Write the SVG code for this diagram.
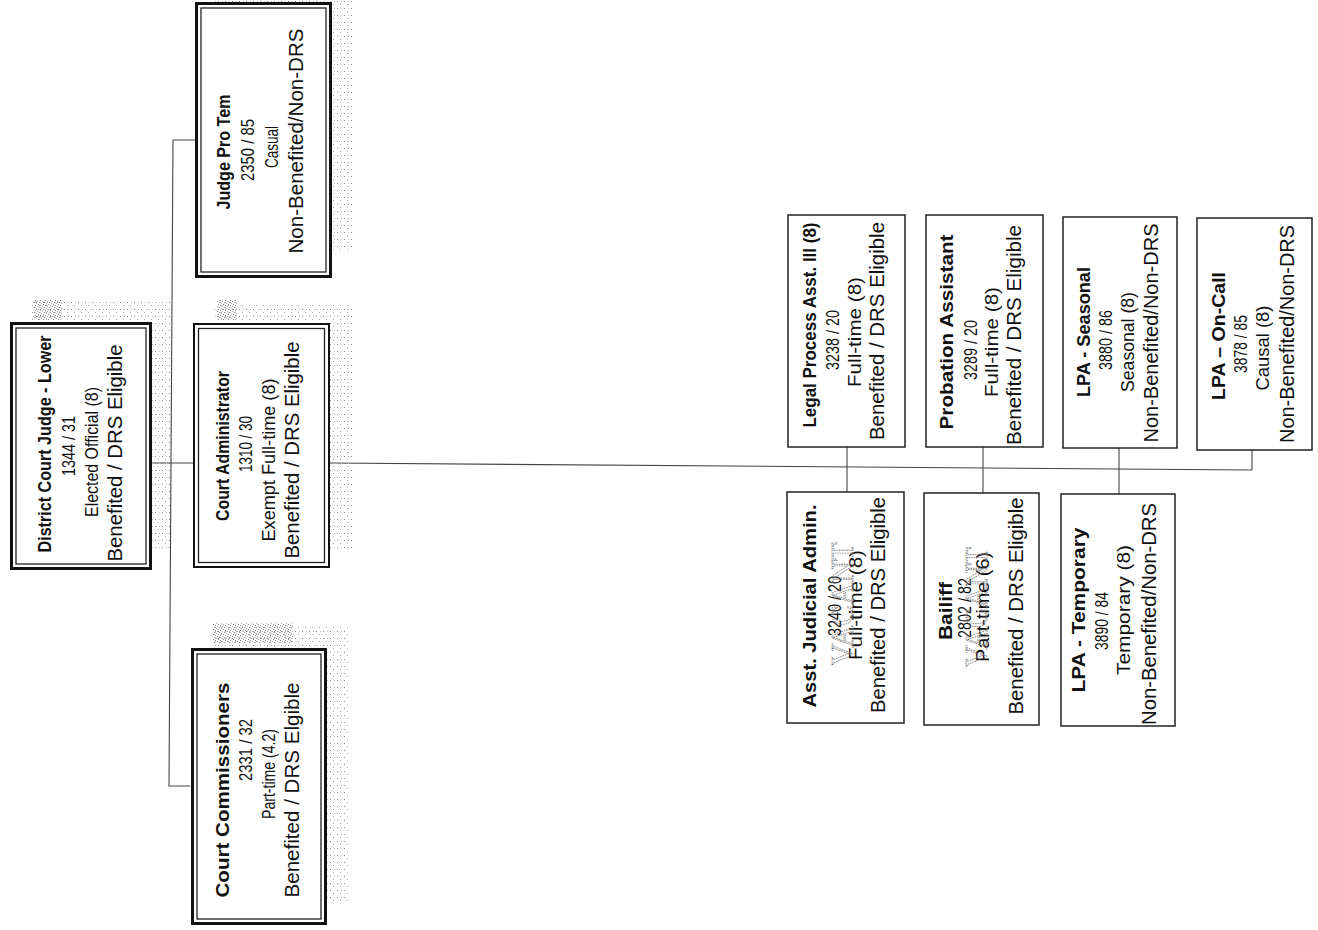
<svg xmlns="http://www.w3.org/2000/svg" width="1318" height="930" viewBox="0 0 1318 930">
<style>
text{font-family:"Liberation Sans",Arial,sans-serif;fill:#111;text-anchor:middle}
.t{font-weight:700;font-size:18px}
.r{font-size:19px}
.b{font-size:20px}
.v{font-family:"Liberation Serif","Times New Roman",serif;font-size:32px;fill:none;stroke:#777;stroke-width:0.9;stroke-dasharray:1.5 1}
.outer{fill:#fff;stroke:#111}
.inner{fill:none;stroke:#222;stroke-width:1.3}
.box{fill:#fff;stroke:#222;stroke-width:1.5}
.conn{fill:none;stroke:#444;stroke-width:1.1}
</style>
<defs>
<pattern id="stip" width="7" height="7" patternUnits="userSpaceOnUse">
<rect x="1" y="1" width="1" height="1" fill="#8a8a8a"/>
<rect x="4" y="4" width="1" height="1" fill="#a8a8a8"/>
<rect x="5" y="1" width="1" height="1" fill="#c4c4c4"/>
</pattern>
<pattern id="dense" width="5" height="5" patternUnits="userSpaceOnUse">
<rect x="0" y="0" width="1" height="1" fill="#888"/>
<rect x="2" y="1" width="1" height="1" fill="#aaa"/>
<rect x="4" y="2" width="1" height="1" fill="#999"/>
<rect x="1" y="3" width="1" height="1" fill="#bbb"/>
<rect x="3" y="4" width="1" height="1" fill="#888"/>
<rect x="0" y="2" width="1" height="1" fill="#ccc"/>
</pattern>
</defs>
<rect width="1318" height="930" fill="#fff"/>

<g id="connectors">
<path class="conn" d="M195 140 H173 L169 786 H190"/>
<path class="conn" d="M152 463 H193"/>
<path class="conn" d="M330 463 L1252 470"/>
<path class="conn" d="M847 447 V492"/>
<path class="conn" d="M983 447 V493"/>
<path class="conn" d="M1119 448 V494"/>
<path class="conn" d="M1252 450 V470"/>
</g>

<g id="district-court-judge">
<rect x="30" y="302" width="142" height="248" fill="url(#stip)"/>
<rect x="34" y="300" width="28" height="20" fill="url(#dense)"/>
<rect class="outer" x="11.5" y="323.5" width="139" height="245" stroke-width="3"/>
<rect class="inner" x="16" y="328" width="130" height="236"/>
<text class="t" transform="translate(51,444) rotate(-90)" textLength="217" lengthAdjust="spacingAndGlyphs">District Court Judge - Lower</text>
<text class="r" transform="translate(75,446) rotate(-90)" textLength="60" lengthAdjust="spacingAndGlyphs">1344 / 31</text>
<text class="r" transform="translate(98,452) rotate(-90)" textLength="130" lengthAdjust="spacingAndGlyphs">Elected Official (8)</text>
<text class="b" transform="translate(122,453) rotate(-90)" textLength="217" lengthAdjust="spacingAndGlyphs">Benefited / DRS Eligible</text>
</g>

<g id="court-administrator">
<rect x="215" y="303" width="137" height="245" fill="url(#stip)"/>
<rect x="217" y="300" width="20" height="20" fill="url(#dense)"/>
<rect class="outer" x="194" y="324" width="135" height="243" stroke-width="2"/>
<rect class="inner" x="198.5" y="328.5" width="126" height="234"/>
<text class="t" transform="translate(229,446) rotate(-90)" textLength="150" lengthAdjust="spacingAndGlyphs">Court Administrator</text>
<text class="r" transform="translate(252,444) rotate(-90)" textLength="56" lengthAdjust="spacingAndGlyphs">1310 / 30</text>
<text class="r" transform="translate(275,460) rotate(-90)" textLength="163" lengthAdjust="spacingAndGlyphs">Exempt Full-time (8)</text>
<text class="b" transform="translate(299,450) rotate(-90)" textLength="217" lengthAdjust="spacingAndGlyphs">Benefited / DRS Eligible</text>
</g>

<g id="judge-pro-tem">
<rect x="215" y="-18" width="137" height="270" fill="url(#stip)"/>
<rect class="outer" x="196.5" y="3.5" width="134" height="273" stroke-width="3"/>
<rect class="inner" x="201" y="8" width="125" height="264"/>
<text class="t" transform="translate(230,152) rotate(-90)" textLength="115" lengthAdjust="spacingAndGlyphs">Judge Pro Tem</text>
<text class="r" transform="translate(254,150) rotate(-90)" textLength="62" lengthAdjust="spacingAndGlyphs">2350 / 85</text>
<text class="r" transform="translate(278,147) rotate(-90)" textLength="42" lengthAdjust="spacingAndGlyphs">Casual</text>
<text class="b" transform="translate(303,141) rotate(-90)" textLength="225" lengthAdjust="spacingAndGlyphs">Non-Benefited/Non-DRS</text>
</g>

<g id="court-commissioners">
<rect x="212" y="626" width="136" height="276" fill="url(#stip)"/>
<rect x="213" y="623" width="80" height="20" fill="url(#dense)"/>
<rect class="outer" x="192.5" y="649.5" width="133" height="274" stroke-width="3"/>
<rect class="inner" x="197" y="654" width="124" height="265"/>
<text class="t" transform="translate(229,790) rotate(-90)" textLength="215" lengthAdjust="spacingAndGlyphs">Court Commissioners</text>
<text class="r" transform="translate(252,750) rotate(-90)" textLength="62" lengthAdjust="spacingAndGlyphs">2331 / 32</text>
<text class="r" transform="translate(275,774) rotate(-90)" textLength="90" lengthAdjust="spacingAndGlyphs">Part-time (4.2)</text>
<text class="b" transform="translate(299,790) rotate(-90)" textLength="215" lengthAdjust="spacingAndGlyphs">Benefited / DRS Elgible</text>
</g>

<g id="legal-process-asst">
<rect class="box" x="788" y="215" width="117" height="232"/>
<text class="t" transform="translate(816,325) rotate(-90)" textLength="205" lengthAdjust="spacingAndGlyphs">Legal Process Asst. III (8)</text>
<text class="r" transform="translate(839,340) rotate(-90)" textLength="60" lengthAdjust="spacingAndGlyphs">3238 / 20</text>
<text class="r" transform="translate(861,332) rotate(-90)" textLength="110" lengthAdjust="spacingAndGlyphs">Full-time (8)</text>
<text class="b" transform="translate(884,331) rotate(-90)" textLength="218" lengthAdjust="spacingAndGlyphs">Benefited / DRS Eligible</text>
</g>

<g id="probation-assistant">
<rect class="box" x="926" y="215" width="117" height="232"/>
<text class="t" transform="translate(953,332) rotate(-90)" textLength="195" lengthAdjust="spacingAndGlyphs">Probation Assistant</text>
<text class="r" transform="translate(977,350) rotate(-90)" textLength="60" lengthAdjust="spacingAndGlyphs">3289 / 20</text>
<text class="r" transform="translate(998,342) rotate(-90)" textLength="110" lengthAdjust="spacingAndGlyphs">Full-time (8)</text>
<text class="b" transform="translate(1021,335) rotate(-90)" textLength="220" lengthAdjust="spacingAndGlyphs">Benefited / DRS Eligible</text>
</g>

<g id="lpa-seasonal">
<rect class="box" x="1063" y="217" width="114" height="231"/>
<text class="t" transform="translate(1090,332) rotate(-90)" textLength="130" lengthAdjust="spacingAndGlyphs">LPA - Seasonal</text>
<text class="r" transform="translate(1112,340) rotate(-90)" textLength="60" lengthAdjust="spacingAndGlyphs">3880 / 86</text>
<text class="r" transform="translate(1134,342) rotate(-90)" textLength="100" lengthAdjust="spacingAndGlyphs">Seasonal (8)</text>
<text class="b" transform="translate(1158,333) rotate(-90)" textLength="219" lengthAdjust="spacingAndGlyphs">Non-Benefited/Non-DRS</text>
</g>

<g id="lpa-on-call">
<rect class="box" x="1197" y="218" width="115" height="232"/>
<text class="t" transform="translate(1225,336) rotate(-90)" textLength="128" lengthAdjust="spacingAndGlyphs">LPA – On-Call</text>
<text class="r" transform="translate(1247,344) rotate(-90)" textLength="58" lengthAdjust="spacingAndGlyphs">3878 / 85</text>
<text class="r" transform="translate(1269,348) rotate(-90)" textLength="85" lengthAdjust="spacingAndGlyphs">Causal (8)</text>
<text class="b" transform="translate(1294,334) rotate(-90)" textLength="218" lengthAdjust="spacingAndGlyphs">Non-Benefited/Non-DRS</text>
</g>

<g id="asst-judicial-admin">
<rect class="box" x="787" y="492" width="117" height="231"/>
<text class="t" transform="translate(816,606) rotate(-90)" textLength="203" lengthAdjust="spacingAndGlyphs">Asst. Judicial Admin.</text>
<text class="r" transform="translate(841,606) rotate(-90)" textLength="60" lengthAdjust="spacingAndGlyphs">3240 / 20</text>
<text class="r" transform="translate(862,605) rotate(-90)" textLength="110" lengthAdjust="spacingAndGlyphs">Full-time (8)</text>
<text class="b" transform="translate(885,605) rotate(-90)" textLength="216" lengthAdjust="spacingAndGlyphs">Benefited / DRS Eligible</text>
<text class="v" transform="translate(853,604) rotate(-90)" textLength="123" lengthAdjust="spacingAndGlyphs">VACANT</text>
</g>

<g id="bailiff">
<rect class="box" x="924" y="493" width="115" height="232"/>
<text class="t" transform="translate(952,611) rotate(-90)" textLength="58" lengthAdjust="spacingAndGlyphs">Bailiff</text>
<text class="r" transform="translate(971,608) rotate(-90)" textLength="60" lengthAdjust="spacingAndGlyphs">2802 / 82</text>
<text class="r" transform="translate(989,607) rotate(-90)" textLength="110" lengthAdjust="spacingAndGlyphs">Part-time (6)</text>
<text class="b" transform="translate(1023,606) rotate(-90)" textLength="217" lengthAdjust="spacingAndGlyphs">Benefited / DRS Eligible</text>
<text class="v" transform="translate(987,607) rotate(-90)" textLength="120" lengthAdjust="spacingAndGlyphs">VACANT</text>
</g>

<g id="lpa-temporary">
<rect class="box" x="1061" y="494" width="114" height="232"/>
<text class="t" transform="translate(1085,610) rotate(-90)" textLength="165" lengthAdjust="spacingAndGlyphs">LPA - Temporary</text>
<text class="r" transform="translate(1108,621) rotate(-90)" textLength="58" lengthAdjust="spacingAndGlyphs">3890 / 84</text>
<text class="r" transform="translate(1130,610) rotate(-90)" textLength="130" lengthAdjust="spacingAndGlyphs">Temporary (8)</text>
<text class="b" transform="translate(1156,614) rotate(-90)" textLength="222" lengthAdjust="spacingAndGlyphs">Non-Benefited/Non-DRS</text>
</g>
</svg>
